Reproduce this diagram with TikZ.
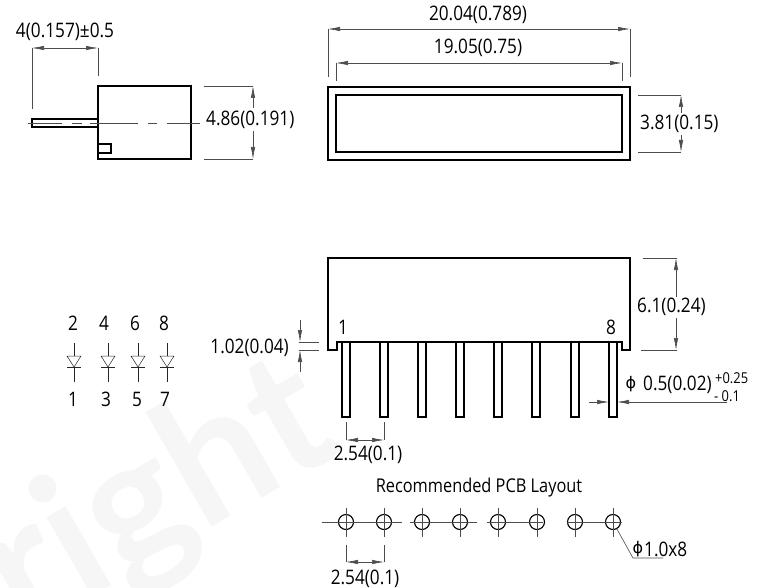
\documentclass[tikz,border=0pt]{standalone}
\usepackage{fontspec}
\setmainfont[FakeStretch=0.86]{Open Sans}
\newfontfamily\symfont{DejaVu Sans}
\newfontfamily\markfont{Lato}
\usepackage{xcolor}
\usetikzlibrary{arrows.meta}
\definecolor{markgray}{gray}{0.965}
\tikzset{part/.style={draw=black,line width=1.3pt,line join=miter}}
\tikzset{pinbox/.style={draw=black,line width=1.1pt}}
\tikzset{diode/.style={draw=black!85,line width=0.5pt}}
\tikzset{dim/.style={draw=black!70,line width=0.6pt}}
\tikzset{dimarrow/.style={dim,{Latex[length=12pt,width=4.5pt]}-{Latex[length=12pt,width=4.5pt]}}}
\tikzset{onearrow/.style={dim,-{Latex[length=12pt,width=4.5pt]}}}
\tikzset{lbl/.style={font=\fontsize{20}{20}\selectfont,inner sep=0pt,text=black}}
\tikzset{smalllbl/.style={lbl,font=\fontsize{15}{15}\selectfont}}
\begin{document}
\begin{tikzpicture}[x=1pt,y=-1pt]
  \useasboundingbox (0,0) rectangle (760,588);

  % watermark
  \begin{scope}
  \clip (0,0) rectangle (760,588);
  \node[rotate=30,anchor=base east,font=\markfont\bfseries\fontsize{178}{178}\selectfont,text=markgray,inner sep=0pt] (mark) at (346,450) {right};
  \end{scope}

  % side view
  \draw[part] (98,86) rectangle (191,159);
  \draw[part] (32,119) rectangle (98,127);
  \draw[part] (98,144) rectangle (111,153);
  \coordinate (axisL) at (28,123);
  \coordinate (axisR) at (200,123);
  \draw[dim,dash pattern=on 34pt off 10pt on 10pt off 8pt on 48pt off 10pt on 9pt off 10pt on 33pt] (axisL) -- (axisR);
  \node[lbl,anchor=west] (sideH) at (206,120) {4.86(0.191)};
  \coordinate (sideT1) at (204,86);
  \coordinate (sideT2) at (253,86);
  \coordinate (sideB1) at (204,159);
  \coordinate (sideB2) at (253,159);
  \draw[dim] (sideT1) -- (sideT2);
  \draw[dim] (sideB1) -- (sideB2);
  \draw[onearrow] (253,108) -- (sideT2);
  \draw[onearrow] (253,131) -- (sideB2);
  \node[lbl] (pinLen) at (65,32) {4(0.157)±0.5};
  \coordinate (pinL1) at (32,109);
  \coordinate (pinL2) at (32,48);
  \coordinate (pinR1) at (98,76);
  \coordinate (pinR2) at (98,48);
  \draw[dim] (pinL1) -- (pinL2);
  \draw[dim] (pinR1) -- (pinR2);
  \draw[dimarrow] (pinL2) -- (pinR2);

  % top view
  \draw[part] (328,87) rectangle (630,160);
  \draw[part] (336,95) rectangle (622,152);
  \node[lbl] (outerW) at (478,15) {20.04(0.789)};
  \node[lbl] (innerW) at (478,48) {19.05(0.75)};
  \coordinate (outA) at (328,77);
  \coordinate (outB) at (328,29);
  \coordinate (outC) at (630,77);
  \coordinate (outD) at (630,29);
  \coordinate (inA) at (336,81);
  \coordinate (inB) at (336,63);
  \coordinate (inC) at (622,81);
  \coordinate (inD) at (622,63);
  \draw[dim] (outA) -- (outB);
  \draw[dim] (outC) -- (outD);
  \draw[dim] (inA) -- (inB);
  \draw[dim] (inC) -- (inD);
  \draw[dimarrow] (outB) -- (outD);
  \draw[dimarrow] (inB) -- (inD);
  \node[lbl,anchor=west] (topH) at (640,124) {3.81(0.15)};
  \coordinate (topT1) at (638,95);
  \coordinate (topT2) at (681,95);
  \coordinate (topB1) at (638,152);
  \coordinate (topB2) at (681,152);
  \draw[dim] (topT1) -- (topT2);
  \draw[dim] (topB1) -- (topB2);
  \draw[onearrow] (681,113) -- (topT2);
  \draw[onearrow] (681,135) -- (topB2);

  % front view
  \draw[part] (328,350) -- (328,258) -- (630,258) -- (630,350) -- (622,350) -- (622,342) -- (337,342) -- (337,350) -- cycle;
  \foreach \x in {342,380,418,456,494,532,571,609}
    \draw[pinbox] (\x,342) rectangle (\x+8,417);
  \node[lbl] (one) at (343,327) {1};
  \node[lbl] (eight) at (611,327) {8};
  \node[lbl,anchor=east] (standoff) at (289,348) {1.02(0.04)};
  \coordinate (soA) at (299,342);
  \coordinate (soB) at (319,342);
  \coordinate (soC) at (299,350);
  \coordinate (soD) at (319,350);
  \draw[dim] (soA) -- (soB);
  \draw[dim] (soC) -- (soD);
  \draw[onearrow] (300,320) -- (300,342);
  \draw[onearrow] (300,372) -- (300,350);
  \coordinate (pitchA) at (346,422);
  \coordinate (pitchB) at (346,440);
  \coordinate (pitchC) at (384,422);
  \coordinate (pitchD) at (384,440);
  \draw[dim] (pitchA) -- (pitchB);
  \draw[dim] (pitchC) -- (pitchD);
  \draw[dimarrow] (pitchB) -- (pitchD);
  \node[lbl] (pitchLbl) at (368,455) {2.54(0.1)};
  \coordinate (htT1) at (643,258);
  \coordinate (htT2) at (677,258);
  \coordinate (htB1) at (641,350);
  \coordinate (htB2) at (677,350);
  \draw[dim] (htT1) -- (htT2);
  \draw[dim] (htB1) -- (htB2);
  \draw[onearrow] (676,297) -- (676,258);
  \draw[onearrow] (676,318) -- (676,350);
  \node[lbl,anchor=west] (htLbl) at (637,307) {6.1(0.24)};
  \coordinate (dmA) at (589,402);
  \coordinate (dmB) at (609,402);
  \coordinate (dmC) at (727,402);
  \coordinate (dmD) at (617,402);
  \draw[onearrow] (dmA) -- (dmB);
  \draw[onearrow] (dmC) -- (dmD);
  \node[lbl] (dmPhi) at (631,384) {\symfont\fontsize{16}{16}\selectfont ϕ};
  \node[lbl,anchor=west] (dmLbl) at (643,385) {0.5(0.02)};
  \node[smalllbl,anchor=west] (dmUp) at (715,378) {+0.25};
  \node[smalllbl,anchor=west] (dmDn) at (714,396) {- 0.1};

  % schematic
  \foreach \x/\ta/\a/\tb/\b in {74/73/2/73/1,108/104/4/106/3,138/135/6/137/5,167/164/8/165/7} {
    \node[lbl] (top\a) at (\ta,323) {\a};
    \node[lbl] (bot\b) at (\tb,399) {\b};
    \draw[diode] (\x,343) -- (\x,356);
    \draw[diode] (\x-7,356) -- (\x+7,356) -- (\x,367) -- cycle;
    \draw[diode] (\x-7,367) -- (\x+7,367);
    \draw[diode] (\x,367) -- (\x,382);
  }

  % pcb layout
  \node[lbl,font=\fontsize{19}{19}\selectfont] (pcbTitle) at (479,488) {Recommended PCB Layout};
  \foreach \x/\name in {346/H1,384/H2,422/H3,460/H4,498/H5,537/H6,575/H7,613/H8} {
    \node[circle,draw=black,line width=1.1pt,minimum size=15pt,inner sep=0pt] (\name) at (\x,522) {};
    \draw[dim] (\x,508) -- (\x,537);
  }
  \draw[dim] (322,522) -- (402,522);
  \draw[dim] (410,522) -- (477,522);
  \draw[dim] (487,522) -- (543,522);
  \draw[dim] (567,522) -- (622,522);
  \coordinate (holeA) at (346,545);
  \coordinate (holeB) at (346,562);
  \coordinate (holeC) at (384,545);
  \coordinate (holeD) at (384,562);
  \draw[dim] (holeA) -- (holeB);
  \draw[dim] (holeC) -- (holeD);
  \draw[dimarrow] (holeB) -- (holeD);
  \node[lbl] (holePitch) at (365,579) {2.54(0.1)};
  \coordinate (leaderA) at (633,558);
  \coordinate (leaderB) at (663,558);
  \draw[dim] (H8) -- (leaderA) -- (leaderB);
  \node[lbl] (holePhi) at (638,549) {\symfont\fontsize{16}{16}\selectfont ϕ};
  \node[lbl,anchor=west] (holeLbl) at (644,549) {1.0x8};
\end{tikzpicture}
\end{document}
